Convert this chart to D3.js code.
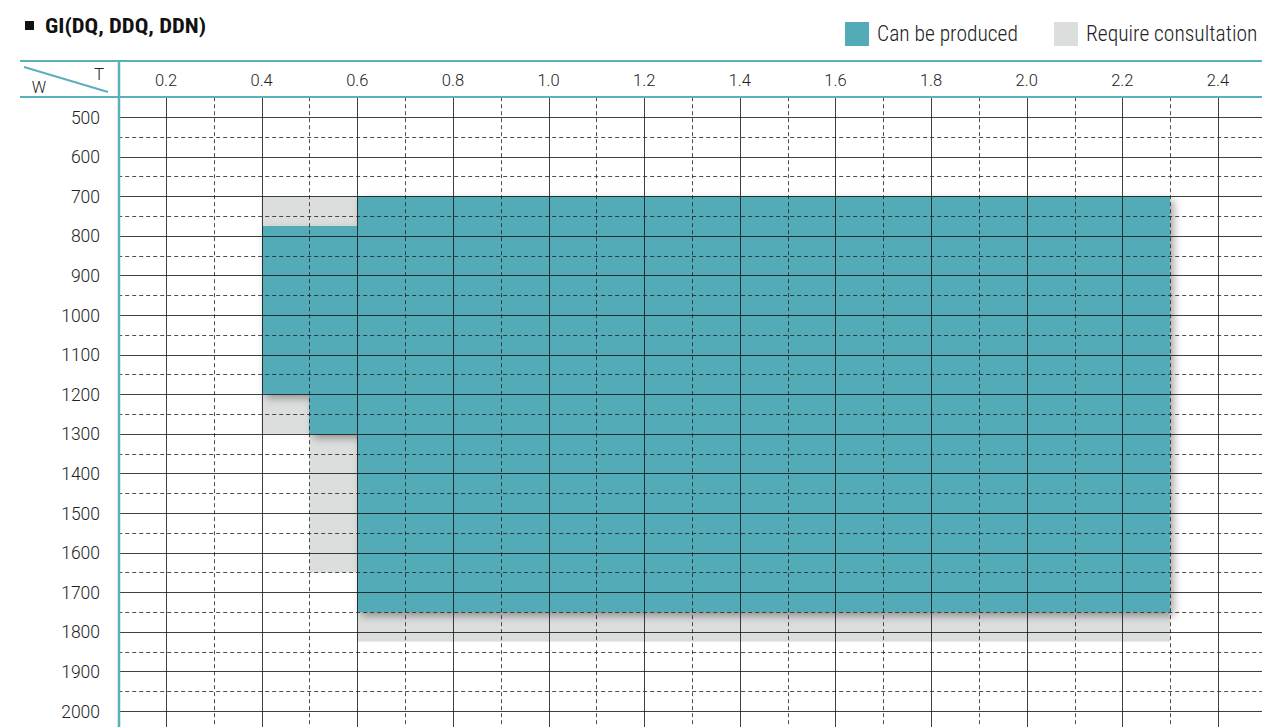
<!DOCTYPE html>
<html><head><meta charset="utf-8">
<script src="https://cdn.jsdelivr.net/npm/d3@7"></script>
<style>
html,body{margin:0;padding:0;background:#fff;}
svg{display:block;}
text{font-family:"Roboto Condensed","Liberation Sans Narrow","Arial Narrow","Liberation Sans",sans-serif;fill:#222;font-weight:300;}
text.wide{font-family:Roboto,"Liberation Sans",sans-serif;font-weight:300;}
</style></head><body>
<script>
// ---- data ----
const title = "GI(DQ, DDQ, DDN)";
const xTickLabels = ["0.2","0.4","0.6","0.8","1.0","1.2","1.4","1.6","1.8","2.0","2.2","2.4"];
const yTickLabels = ["500","600","700","800","900","1000","1100","1200","1300","1400","1500","1600","1700","1800","1900","2000"];
// [T from, T to, W from, W to]
const canBeProduced = [
  [0.4, 0.5, 775, 1200],
  [0.5, 0.6, 775, 1300],
  [0.6, 2.3, 700, 1750]
];
const requireConsultation = [
  [0.4, 0.6, 700, 775],
  [0.4, 0.5, 1200, 1300],
  [0.5, 0.6, 1300, 1650],
  [0.6, 2.3, 1750, 1825]
];
const legendItems = ["Can be produced", "Require consultation"];

// ---- layout ----
const W = 1262, H = 727;
const teal = "#53abb8", gray = "#dcdddd", lineTeal = "#5ab1bc";
const svg = d3.select("body").append("svg").attr("width", W).attr("height", H);

const x = d3.scaleLinear().domain([0.1, 2.5]).range([118.2, 1265.8]);
const y = d3.scaleLinear().domain([450, 2050]).range([97.2, 730.8]);

const defs = svg.append("defs");
const f = defs.append("filter").attr("id","sh").attr("x","-10%").attr("y","-10%").attr("width","130%").attr("height","130%");
f.append("feDropShadow").attr("dx",4).attr("dy",4).attr("stdDeviation",4).attr("flood-color","#000").attr("flood-opacity",0.35);

// consultation areas
svg.append("g").selectAll("rect").data(requireConsultation).join("rect")
  .attr("x", d => x(d[0])).attr("width", d => x(d[1]) - x(d[0]))
  .attr("y", d => y(d[2])).attr("height", d => y(d[3]) - y(d[2]))
  .attr("fill", gray);

// producible areas
svg.append("g").attr("filter","url(#sh)").selectAll("rect").data(canBeProduced).join("rect")
  .attr("x", d => x(d[0])).attr("width", d => x(d[1]) - x(d[0]))
  .attr("y", d => y(d[2])).attr("height", d => y(d[3]) - y(d[2]))
  .attr("fill", teal).attr("shape-rendering","crispEdges");

// grid
const grid = svg.append("g");
const xMinor = d3.range(3, 25, 2).map(v => v / 10);
const xMajor = xTickLabels.map(Number);
const yMajor = yTickLabels.map(Number);
const yMinor = yMajor.map(v => v + 50);
const gx0 = x(0.1), gx1 = W, gy0 = y(450), gy1 = H;
grid.selectAll(".vmaj").data(xMajor).join("line")
  .attr("x1", d => Math.round(x(d)) + 0.5).attr("x2", d => Math.round(x(d)) + 0.5)
  .attr("y1", gy0).attr("y2", gy1).attr("stroke", "#111").attr("stroke-opacity", 0.8);
grid.selectAll(".vmin").data(xMinor).join("line")
  .attr("x1", d => Math.round(x(d)) + 0.5).attr("x2", d => Math.round(x(d)) + 0.5)
  .attr("y1", gy0).attr("y2", gy1).attr("stroke", "#222").attr("stroke-opacity", 0.8).attr("stroke-dasharray", "4,3");
grid.selectAll(".hmaj").data(yMajor).join("line")
  .attr("y1", d => Math.round(y(d)) + 0.5).attr("y2", d => Math.round(y(d)) + 0.5)
  .attr("x1", gx0).attr("x2", gx1).attr("stroke", "#111").attr("stroke-opacity", 0.8);
grid.selectAll(".hmin").data(yMinor.filter(v => y(v) < H)).join("line")
  .attr("y1", d => Math.round(y(d)) + 0.5).attr("y2", d => Math.round(y(d)) + 0.5)
  .attr("x1", gx0).attr("x2", gx1).attr("stroke", "#222").attr("stroke-opacity", 0.8).attr("stroke-dasharray", "4,3");

// header frame
svg.append("line").attr("x1", 20).attr("x2", W).attr("y1", 61).attr("y2", 61).attr("stroke", lineTeal).attr("stroke-width", 2);
svg.append("line").attr("x1", 20).attr("x2", W).attr("y1", 97).attr("y2", 97).attr("stroke", lineTeal).attr("stroke-width", 2);
svg.append("line").attr("x1", 119).attr("x2", 119).attr("y1", 60).attr("y2", H).attr("stroke", lineTeal).attr("stroke-width", 2.5);
svg.append("line").attr("x1", 24).attr("y1", 67).attr("x2", 108).attr("y2", 92).attr("stroke", lineTeal).attr("stroke-width", 2);
svg.append("text").attr("class","wide").attr("x", 99).attr("y", 80).attr("text-anchor","middle").attr("font-size",17).text("T");
svg.append("text").attr("class","wide").attr("x", 39).attr("y", 93).attr("text-anchor","middle").attr("font-size",16).text("W");

// x tick labels
svg.append("g").selectAll("text").data(xTickLabels).join("text").attr("class","wide")
  .attr("x", d => x(+d)).attr("y", 86).attr("text-anchor","middle").attr("font-size",16.5).text(d => d);
// y tick labels
svg.append("g").selectAll("text").data(yTickLabels).join("text").attr("class","wide")
  .attr("x", 100).attr("y", d => y(+d) + 6.5).attr("text-anchor","end").attr("font-size",17.5).text(d => d);

// title
svg.append("rect").attr("x", 25).attr("y", 21).attr("width", 9).attr("height", 9).attr("fill", "#111");
svg.append("text").attr("x", 45).attr("y", 33).attr("font-size", 20).attr("font-weight","bold")
  .attr("textLength", 161).attr("lengthAdjust", "spacingAndGlyphs").style("fill","#111").style("font-weight","bold").text(title);

// legend
const lg = svg.append("g");
const lx = [845, 1054];
const lc = [teal, gray];
legendItems.forEach((t, i) => {
  lg.append("rect").attr("x", lx[i]).attr("y", 22).attr("width", 24).attr("height", 24).attr("fill", lc[i]);
  lg.append("text").attr("x", lx[i] + 32).attr("y", 41).attr("font-size", 21.5).text(t);
});
</script>
</body></html>
